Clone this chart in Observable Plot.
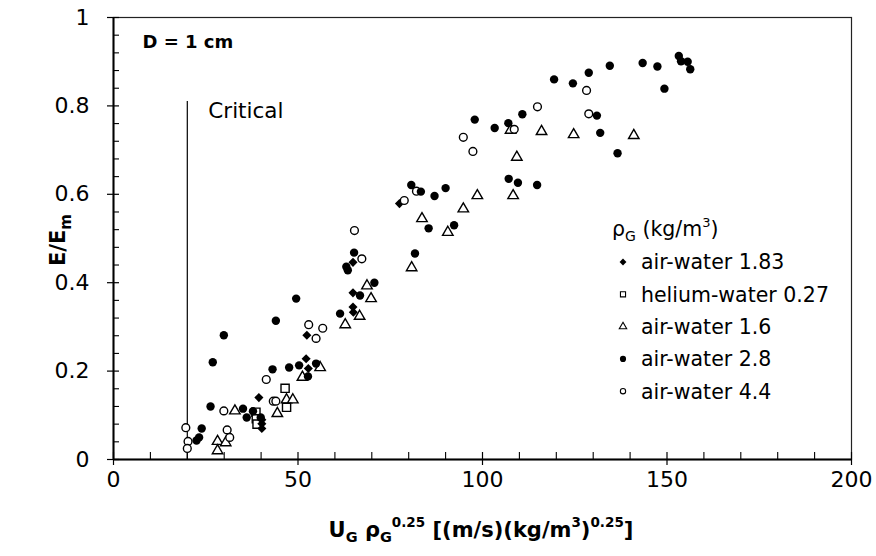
<!DOCTYPE html>
<html>
<head>
<meta charset="utf-8">
<script src="https://cdn.jsdelivr.net/npm/d3@7"></script>
<script src="https://cdn.jsdelivr.net/npm/@observablehq/plot@0.6"></script>
<style>
html, body { margin: 0; padding: 0; background: #fff; }
#chart { width: 876px; height: 556px; }
svg text { font-family: "DejaVu Sans", sans-serif; }
</style>
</head>
<body>
<div id="chart"></div>
<script>
// ---- Data (x = U_G rho_G^0.25, y = E/Em) ----
const seriesNames = ["air-water 1.83", "helium-water 0.27", "air-water 1.6", "air-water 2.8", "air-water 4.4"];

const airWater183 = [
  [39.4,0.140],[40.2,0.090],[40.2,0.081],[40.2,0.070],
  [52.4,0.281],[52.2,0.228],[52.8,0.206],
  [64.9,0.446],[64.9,0.377],[64.9,0.345],[65.0,0.333],
  [77.5,0.579]
];
const heliumWater027 = [
  [38.6,0.107],[38.7,0.092],[38.9,0.080],[46.5,0.161],[46.9,0.118]
];
const airWater16 = [
  [28.2,0.041],[28.2,0.020],[30.4,0.038],[32.9,0.110],[44.4,0.104],
  [46.9,0.135],[48.6,0.135],[51.2,0.186],[56.0,0.208],[62.8,0.305],
  [66.7,0.324],[68.7,0.393],[69.8,0.364],[80.8,0.434],[83.6,0.545],
  [90.6,0.514],[94.8,0.567],[98.6,0.597],[107.6,0.745],[108.3,0.597],
  [109.3,0.684],[116.0,0.742],[124.7,0.735],[141.0,0.733]
];
const airWater28 = [
  [22.5,0.043],[23.2,0.050],[23.9,0.070],[26.3,0.120],[26.9,0.220],
  [29.9,0.281],[35.1,0.115],[36.1,0.095],[37.8,0.109],[39.9,0.095],
  [43.1,0.204],[44.0,0.314],[47.6,0.208],[49.5,0.364],[50.3,0.213],
  [52.7,0.188],[54.9,0.217],[61.4,0.330],[63.1,0.436],[63.5,0.428],
  [65.2,0.468],[66.8,0.371],[70.7,0.400],[80.7,0.621],[83.3,0.606],
  [87.0,0.596],[90.0,0.614],[85.4,0.523],[92.3,0.530],[81.7,0.466],
  [97.9,0.769],[103.3,0.750],[107.0,0.761],[110.8,0.781],[119.4,0.860],
  [124.5,0.851],[128.8,0.875],[134.5,0.891],[143.4,0.897],[147.4,0.889],
  [149.3,0.839],[153.2,0.913],[153.8,0.901],[155.6,0.900],[156.3,0.883],
  [131.0,0.778],[131.9,0.739],[136.6,0.693],[107.1,0.635],[109.6,0.626],
  [114.8,0.621]
];
const airWater44 = [
  [19.6,0.072],[20.2,0.041],[20.0,0.025],[29.9,0.110],[30.8,0.067],
  [31.5,0.050],[41.4,0.181],[43.3,0.132],[44.0,0.132],[52.9,0.305],
  [56.7,0.297],[54.9,0.274],[65.3,0.518],[67.3,0.454],[78.8,0.586],
  [82.1,0.607],[94.8,0.729],[97.4,0.697],[108.6,0.747],[114.9,0.798],
  [128.2,0.835],[128.8,0.782]
];

const xMajorTicks = [0, 50, 100, 150, 200];
const xMinorTicks = [10,20,30,40,60,70,80,90,110,120,130,140,160,170,180,190];
const yMajorTicks = [0, 0.2, 0.4, 0.6, 0.8, 1];
const yMinorTicks = [0.04,0.08,0.12,0.16,0.24,0.28,0.32,0.36,0.44,0.48,0.52,0.56,0.64,0.68,0.72,0.76,0.84,0.88,0.92,0.96];

const criticalX = 20;
const criticalTop = 0.81;
const criticalLabel = "Critical";
const panelLabel = "D = 1 cm";

// ---- Build table ----
const toRows = (arr, s) => arr.map(([x, y]) => ({x, y, series: s}));
const rows183 = toRows(airWater183, seriesNames[0]);
const rows027 = toRows(heliumWater027, seriesNames[1]);
const rows16 = toRows(airWater16, seriesNames[2]);
const rows28 = toRows(airWater28, seriesNames[3]);
const rows44 = toRows(airWater44, seriesNames[4]);

const W = 876, H = 556;
const mL = 113, mR = 25, mT = 17, mB = 97;
const plotW = W - mL - mR, plotH = H - mT - mB;
const FONT = "DejaVu Sans";

const plot = Plot.plot({
  width: W, height: H,
  marginLeft: mL, marginRight: mR, marginTop: mT, marginBottom: mB,
  x: {domain: [0, 200]},
  y: {domain: [0, 1]},
  style: {fontFamily: FONT, fontSize: "22px", color: "#000", background: "#fff", overflow: "visible"},
  marks: [
    Plot.frame({stroke: "#222", strokeWidth: 1.2}),
    Plot.tickX(xMinorTicks, {x: d => d, insetTop: plotH - 7, stroke: "#000", strokeWidth: 1.1}),
    Plot.tickX(xMajorTicks, {x: d => d, insetTop: plotH - 7, insetBottom: -6, stroke: "#000", strokeWidth: 1.2}),
    Plot.tickY(yMinorTicks, {y: d => d, insetRight: plotW - 6, stroke: "#000", strokeWidth: 1.1}),
    Plot.tickY(yMajorTicks, {y: d => d, insetRight: plotW - 6, insetLeft: -6, stroke: "#000", strokeWidth: 1.2}),
    Plot.ruleX([0], {stroke: "#000", strokeWidth: 2}),
    Plot.ruleY([0], {stroke: "#000", strokeWidth: 2}),
    Plot.axisX({ticks: xMajorTicks, tickSize: 0, tickPadding: 12, fontSize: 22, tickFormat: d3.format("~g"), label: null}),
    Plot.axisY({ticks: yMajorTicks, tickSize: 0, tickPadding: 24, fontSize: 22, tickFormat: d3.format("~g"), label: null}),
    Plot.ruleX([criticalX], {x: d => d, y1: () => 0, y2: () => criticalTop, stroke: "#000", strokeWidth: 1.2}),
    Plot.text([criticalLabel], {x: () => criticalX, y: () => criticalTop, text: d => d, dx: 21, dy: 10, textAnchor: "start", fontSize: 21.5, fill: "#000"}),
    Plot.text([panelLabel], {frameAnchor: "top-left", text: d => d, dx: 29, dy: 18, textAnchor: "start", fontSize: 18, fontWeight: "bold", fill: "#000"}),
    Plot.dot(rows16, {x: "x", y: "y", symbol: "triangle", r: 3.9, fill: "#fff", stroke: "#000", strokeWidth: 1.4}),
    Plot.dot(rows027, {x: "x", y: "y", symbol: "square", r: 4.6, fill: "#fff", stroke: "#000", strokeWidth: 1.4}),
    Plot.dot(rows183, {x: "x", y: "y", symbol: "diamond2", r: 4.1, fill: "#000", stroke: "none"}),
    Plot.dot(rows44, {x: "x", y: "y", symbol: "circle", r: 3.9, fill: "#fff", stroke: "#000", strokeWidth: 1.4}),
    Plot.dot(rows28, {x: "x", y: "y", symbol: "circle", r: 4.2, fill: "#000", stroke: "none"})
  ]
});

document.getElementById("chart").appendChild(plot);

// ---- Titles and legend (real SVG text) ----
const svg = d3.select(plot);

// X axis title
const xt = svg.append("text")
  .attr("x", 481).attr("y", 537)
  .attr("text-anchor", "middle")
  .attr("font-family", FONT).attr("font-weight", "bold").attr("font-size", 21).attr("fill", "#000");
xt.append("tspan").text("U");
xt.append("tspan").attr("font-size", 14.5).attr("dy", 5).text("G");
xt.append("tspan").attr("dy", -5).text(" ρ");
xt.append("tspan").attr("font-size", 14.5).attr("dy", 5).text("G");
xt.append("tspan").attr("font-size", 13.5).attr("dy", -15).text("0.25");
xt.append("tspan").attr("dy", 10).text(" [(m/s)(kg/m");
xt.append("tspan").attr("font-size", 13.5).attr("dy", -10).text("3");
xt.append("tspan").attr("dy", 10).text(")");
xt.append("tspan").attr("font-size", 13.5).attr("dy", -10).text("0.25");
xt.append("tspan").attr("dy", 10).text("]");

// Y axis title
const yt = svg.append("text")
  .attr("transform", "translate(65,240) rotate(-90)")
  .attr("text-anchor", "middle")
  .attr("font-family", FONT).attr("font-weight", "bold").attr("font-size", 21).attr("fill", "#000");
yt.append("tspan").text("E/E");
yt.append("tspan").attr("font-size", 15).attr("dy", 6).text("m");

// Legend
const legend = svg.append("g").attr("font-family", FONT).attr("fill", "#000").attr("text-anchor", "start");
const lt = legend.append("text").attr("x", 612).attr("y", 236).attr("font-size", 20.5).attr("text-anchor", "start");
lt.append("tspan").text("ρ");
lt.append("tspan").attr("font-size", 14).attr("dy", 5).text("G");
lt.append("tspan").attr("dy", -5).text(" (kg/m");
lt.append("tspan").attr("font-size", 13).attr("dy", -9).text("3");
lt.append("tspan").attr("dy", 9).text(")");

const legendSymbols = [
  {type: d3.symbolDiamond2, fill: "#000", stroke: "none", size: 30},
  {type: d3.symbolSquare, fill: "#fff", stroke: "#000", size: 26},
  {type: d3.symbolTriangle, fill: "#fff", stroke: "#000", size: 24},
  {type: d3.symbolCircle, fill: "#000", stroke: "none", size: 30},
  {type: d3.symbolCircle, fill: "#fff", stroke: "#000", size: 22}
];
seriesNames.forEach((name, i) => {
  const cy = 262 + i * 32.3;
  const s = legendSymbols[i];
  legend.append("path")
    .attr("transform", `translate(623,${cy})`)
    .attr("d", d3.symbol().type(s.type).size(s.size)())
    .attr("fill", s.fill).attr("stroke", s.stroke).attr("stroke-width", 1.1);
  legend.append("text")
    .attr("x", 641).attr("y", cy).attr("dy", "0.36em")
    .attr("text-anchor", "start")
    .attr("font-size", 20.5).text(name);
});
</script>
</body>
</html>
